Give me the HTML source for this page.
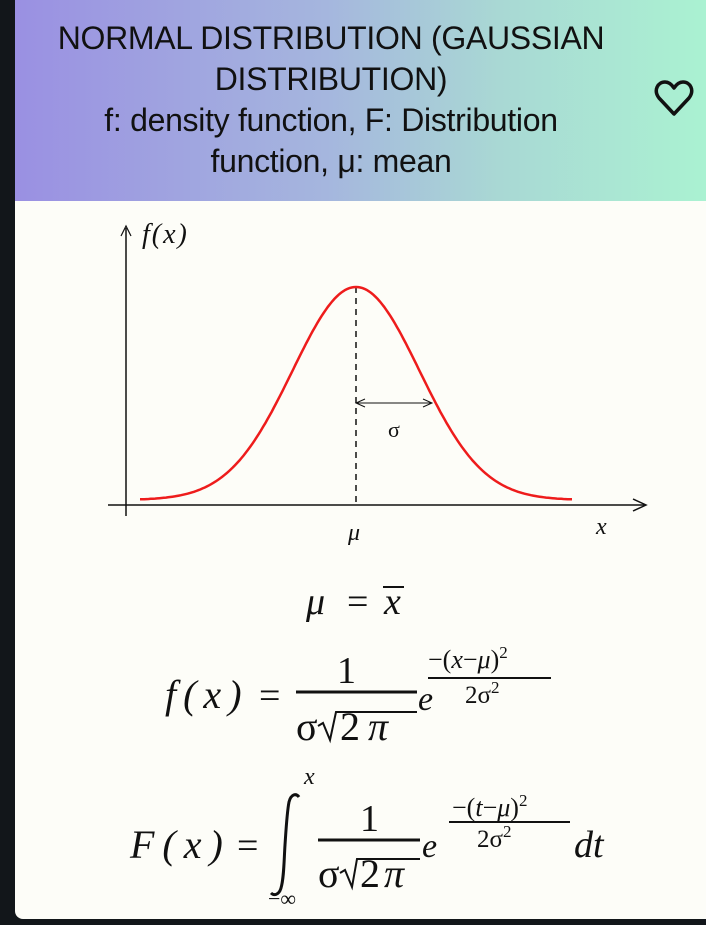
<!DOCTYPE html>
<html><head><meta charset="utf-8"><style>
body{margin:0;width:706px;height:925px;background:#12161a;overflow:hidden;font-family:"Liberation Sans",sans-serif}
#card{position:absolute;left:15px;top:0;width:700px;height:919px;background:#fdfdf8;border-radius:0 0 8px 8px;overflow:hidden}
#hdr{position:absolute;left:0;top:0;width:691px;height:201px;background:linear-gradient(90deg,#9a90e2,#a5b6de 45%,#a9d8d4 70%,#aaf2d2)}
#title{position:absolute;left:0;top:18px;width:632px;text-align:center;font-size:32px;line-height:41px;color:#111;letter-spacing:-0.3px;white-space:nowrap}
</style></head><body>
<div id="card">
<div id="hdr">
<div id="title">NORMAL DISTRIBUTION (GAUSSIAN<br>DISTRIBUTION)<br>f: density function, F: Distribution<br>function, μ: mean</div>
<svg style="position:absolute;left:638px;top:78px" width="42" height="42" viewBox="0 0 42 42"><path d="M21 36 L6 20 C0 12 5 4 12 4 C16 4 19 7 21 10 C23 7 26 4 30 4 C37 4 42 12 36 20 Z" fill="none" stroke="#111" stroke-width="3.5" stroke-linejoin="round"/></svg>
</div>
</div>
<svg id="chart" style="position:absolute;left:0;top:0" width="706" height="925">
<g font-family="'Liberation Serif',serif" fill="#111">
<line x1="126" y1="516" x2="126" y2="228" stroke="#111" stroke-width="1.5"/>
<path d="M121 236 L126 226 L131 236" fill="none" stroke="#111" stroke-width="1.2"/>
<text x="142" y="243" font-size="28" font-style="italic" letter-spacing="2">f(x)</text>
<line x1="108" y1="505" x2="645" y2="505" stroke="#111" stroke-width="1.5"/>
<path d="M633 499 L646 505 L633 511" fill="none" stroke="#111" stroke-width="1.5"/>
<text x="596" y="534" font-size="24" font-style="italic">x</text>
<text x="348" y="540" font-size="24" font-style="italic">μ</text>
<line id="mline" x1="356" y1="287" x2="356" y2="505" stroke="#111" stroke-width="1.5" stroke-dasharray="6,5"/>
<g id="sig"></g>
<text x="388" y="437" font-size="22">σ</text>
<path id="curve" fill="none" stroke="#ee1c1c" stroke-width="2.5"/>
<g>
<text x="306" y="614" font-size="38" font-style="italic">μ</text>
<text x="347" y="614" font-size="38">=</text>
<text x="384" y="614" font-size="38" font-style="italic">x</text>
<line x1="383" y1="587" x2="404" y2="587" stroke="#111" stroke-width="2"/>
</g>
<g>
<text x="165" y="708" font-size="40" font-style="italic" letter-spacing="7">f(x)</text>
<text x="259" y="708" font-size="38">=</text>
<text x="337" y="683" font-size="38">1</text>
<line x1="296" y1="692" x2="417" y2="692" stroke="#111" stroke-width="3"/>
<text x="296" y="740" font-size="40">σ</text>
<path d="M318 726 L323 723 L330 740 L336 712 L417 712" fill="none" stroke="#111" stroke-width="2"/>
<text x="340" y="740" font-size="40" letter-spacing="8">2<tspan font-style="italic">π</tspan></text>
<text x="418" y="710" font-size="34" font-style="italic">e</text>
<text x="428" y="668" font-size="26">−(<tspan font-style="italic">x</tspan>−<tspan font-style="italic">μ</tspan>)<tspan font-size="17" dy="-10">2</tspan></text>
<line x1="428" y1="678" x2="551" y2="678" stroke="#111" stroke-width="2"/>
<text x="465" y="703" font-size="25">2σ<tspan font-size="17" dy="-10">2</tspan></text>
</g>
<g>
<text x="130" y="858" font-size="40" font-style="italic" letter-spacing="8">F(x)</text>
<text x="237" y="858" font-size="38">=</text>
<text x="304" y="784" font-size="24" font-style="italic">x</text>
<path d="M271 893 C274 896 279 895 281 888 C284 878 284 860 285 845 C286 830 287 812 289 802 C291 794 296 793 299 797" fill="none" stroke="#111" stroke-width="3"/>
<text x="268" y="906" font-size="22">−∞</text>
<text x="360" y="831" font-size="38">1</text>
<line x1="318" y1="840" x2="420" y2="840" stroke="#111" stroke-width="3"/>
<text x="318" y="887" font-size="40">σ</text>
<path d="M340 873 L345 870 L352 887 L357 859 L420 859" fill="none" stroke="#111" stroke-width="2"/>
<text x="360" y="887" font-size="40" letter-spacing="4">2<tspan font-style="italic">π</tspan></text>
<text x="422" y="857" font-size="34" font-style="italic">e</text>
<text x="452" y="816" font-size="26">−(<tspan font-style="italic">t</tspan>−<tspan font-style="italic">μ</tspan>)<tspan font-size="17" dy="-10">2</tspan></text>
<line x1="449" y1="822" x2="570" y2="822" stroke="#111" stroke-width="2"/>
<text x="477" y="847" font-size="25">2σ<tspan font-size="17" dy="-10">2</tspan></text>
<text x="574" y="857" font-size="38" font-style="italic">dt</text>
</g>
</g>
</svg>
<script>
const xRange=[-3.4,3.4];
const muVal=[0];
const sigmaVal=[1];
const peakHeight=[0.3989];
const X0=140,X1=572,Ybase=500,Ypeak=287;
function sx(v){return X0+(v-xRange[0])/(xRange[1]-xRange[0])*(X1-X0);}
function sy(v){return Ybase-v/peakHeight[0]*(Ybase-Ypeak);}
let d="";
for(let i=0;i<=200;i++){const x=xRange[0]+(xRange[1]-xRange[0])*i/200;
const y=Math.exp(-((x-muVal[0])**2)/(2*sigmaVal[0]**2))/(sigmaVal[0]*Math.sqrt(2*Math.PI));
d+=(i?"L":"M")+sx(x).toFixed(1)+" "+sy(y).toFixed(1);}
document.getElementById('curve').setAttribute('d',d);
const m=document.getElementById('mline');
m.setAttribute('x1',sx(muVal[0]));m.setAttribute('x2',sx(muVal[0]));
const a=sx(muVal[0]),b=432,yy=403;
document.getElementById('sig').innerHTML=`<line x1="${a}" y1="${yy}" x2="${b}" y2="${yy}" stroke="#111" stroke-width="1"/><path d="M${a+9} ${yy-4} L${a} ${yy} L${a+9} ${yy+4}M${b-9} ${yy-4} L${b} ${yy} L${b-9} ${yy+4}" fill="none" stroke="#111"/>`;
</script>
</body></html>
